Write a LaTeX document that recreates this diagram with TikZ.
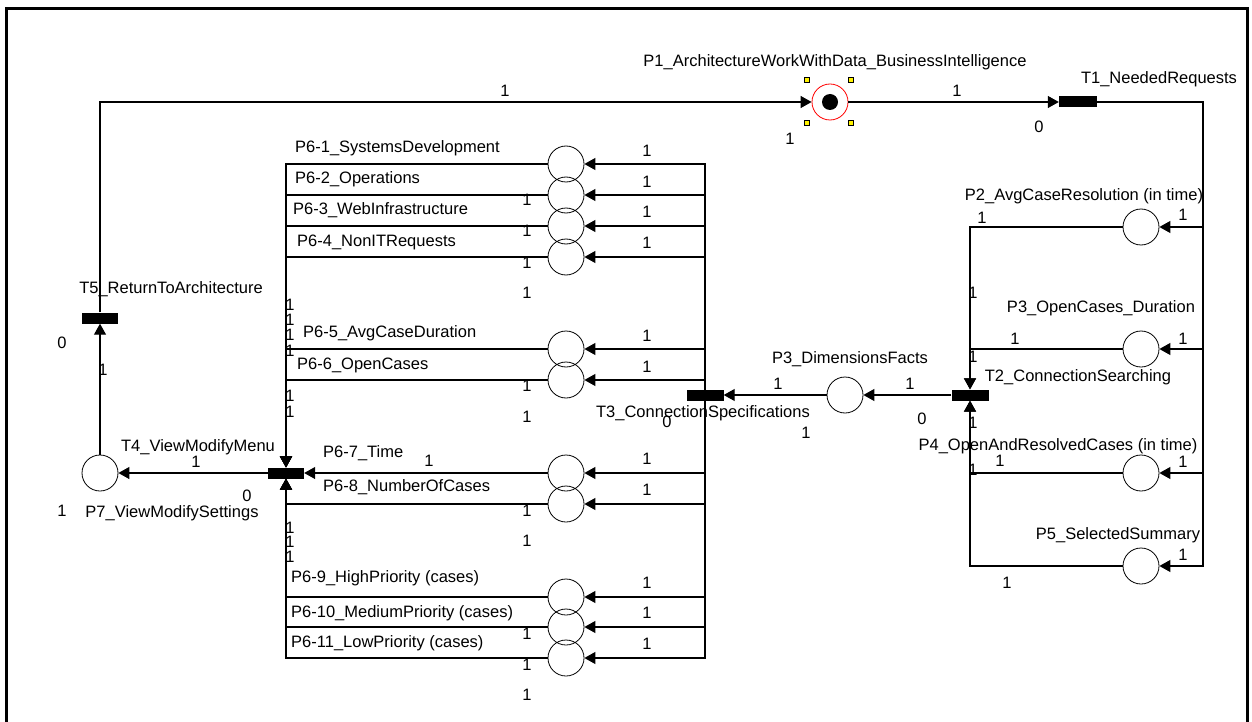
\documentclass[tikz,border=0pt]{standalone}
\usepackage{fontspec}
\setmainfont{Liberation Sans}
\usetikzlibrary{arrows.meta}
\begin{document}
\begin{tikzpicture}[x=1pt,y=-1pt,
  place/.style={circle,draw,line width=0.8pt,minimum size=36pt,inner sep=0pt},
  trans/.style={rectangle,fill=black,minimum width=37pt,minimum height=11pt,inner sep=0pt},
  arc/.style={line width=1.1pt,-{Triangle[length=11pt,width=12pt]}},
  lbl/.style={font=\fontsize{16.5}{19}\selectfont,inner sep=0pt},
  handle/.style={rectangle,draw=black,fill=yellow,line width=0.6pt,minimum size=5pt,inner sep=0pt}]
\useasboundingbox (0,0) rectangle (1252,722);
\fill[white] (0,0) rectangle (1252,722);
\draw[line width=3pt] (6,730) -- (6,9) -- (1247,9) -- (1247,730);

% places and transitions
\node[place,draw=red] (P1) at (830,102) {};
\fill (P1.center) circle (8);
\node[handle] (h1) at (807,80) {};
\node[handle] (h2) at (851,80) {};
\node[handle] (h3) at (807,123) {};
\node[handle] (h4) at (851,123) {};
\node[trans,minimum width=38pt] (T1) at (1078,102) {};
\node[place] (P2) at (1141,227) {};
\node[place] (P3oc) at (1141,349) {};
\node[place] (P4) at (1141,473) {};
\node[place] (P5) at (1141,566) {};
\node[trans] (T2) at (970,395) {};
\node[place] (P3df) at (845,395) {};
\node[trans] (T3) at (705,395) {};
\foreach \n/\y in {1/164,2/195,3/226,4/257,5/349,6/380,7/473,8/504,9/597,10/627,11/658}
  \node[place] (q\n) at (566,\y) {};
\node[trans,minimum width=36pt] (T4) at (286,473) {};
\node[place] (P7) at (100,473) {};
\node[trans,minimum width=36pt] (T5) at (100,318) {};
\coordinate (cr) at (1203,102);

% arcs
\draw[arc] (T5.north) |- (P1.west);
\draw[arc] (P1.east) -- (T1.west);
\foreach \p in {P2,P3oc,P4,P5} \draw[arc] (T1.east) -- (cr) |- (\p.east);
\draw[arc] (P2.west) -| (T2.north);
\draw[arc] (P3oc.west) -| (T2.north);
\draw[arc] (P4.west) -| (T2.south);
\draw[arc] (P5.west) -| (T2.south);
\draw[arc] (T2.west) -- (P3df.east);
\draw[arc] (P3df.west) -- (T3.east);
\foreach \n in {1,...,11} \draw[arc] (T3.center) |- (q\n.east);
\foreach \n in {1,...,6} \draw[arc] (q\n.west) -| (T4.north);
\draw[arc] (q7.west) -- (T4.east);
\foreach \n in {8,...,11} \draw[arc] (q\n.west) -| (T4.south);
\draw[arc] (T4.west) -- (P7.east);
\draw[arc] (P7.north) -- (T5.south);

% names
\node[lbl] (nP1) at (835,62) {P1\_ArchitectureWorkWithData\_BusinessIntelligence};
\node[lbl] (nT1) at (1159,79) {T1\_NeededRequests};
\node[lbl] (nP2) at (1084,196) {P2\_AvgCaseResolution (in time)};
\node[lbl] (nP3oc) at (1101,308) {P3\_OpenCases\_Duration};
\node[lbl] (nT2) at (1078,377) {T2\_ConnectionSearching};
\node[lbl] (nP4) at (1058,446) {P4\_OpenAndResolvedCases (in time)};
\node[lbl] (nP5) at (1118,535) {P5\_SelectedSummary};
\node[lbl] (nP3df) at (850,359) {P3\_DimensionsFacts};
\node[lbl] (nT3) at (703,413) {T3\_ConnectionSpecifications};
\node[lbl,anchor=west] (n1) at (295,148) {P6-1\_SystemsDevelopment};
\node[lbl,anchor=west] (n2) at (295,179) {P6-2\_Operations};
\node[lbl,anchor=west] (n3) at (293,210) {P6-3\_WebInfrastructure};
\node[lbl,anchor=west] (n4) at (297,242) {P6-4\_NonITRequests};
\node[lbl,anchor=west] (n5) at (303,333) {P6-5\_AvgCaseDuration};
\node[lbl,anchor=west] (n6) at (297,365) {P6-6\_OpenCases};
\node[lbl,anchor=west] (n7) at (323,453) {P6-7\_Time};
\node[lbl,anchor=west] (n8) at (323,487) {P6-8\_NumberOfCases};
\node[lbl,anchor=west] (n9) at (291,578) {P6-9\_HighPriority (cases)};
\node[lbl,anchor=west] (n10) at (291,613) {P6-10\_MediumPriority (cases)};
\node[lbl,anchor=west] (n11) at (291,643) {P6-11\_LowPriority (cases)};
\node[lbl] (nT4) at (198,447) {T4\_ViewModifyMenu};
\node[lbl] (nT5) at (171,289) {T5\_ReturnToArchitecture};
\node[lbl] (nP7) at (172,513) {P7\_ViewModifySettings};

% weights and markings
\foreach \x/\y/\t [count=\i] in {505/91/1,790/139/1,957/91/1,1039/127/0,
  982/218/1,1183/215/1,973/293/1,1015/339/1,1183/339/1,973/357/1,
  922/419/0,910/384/1,973/423/1,1000/461/1,1183/462/1,973/470/1,
  1007/583/1,1183/555/1,778/384/1,667/422/0,806/433/1,
  647/151/1,647/182/1,647/212/1,647/243/1,647/336/1,647/367/1,647/459/1,
  647/490/1,647/583/1,647/613/1,647/644/1,
  527/200/1,527/231/1,527/263/1,527/293/1,527/386/1,527/417/1,527/511/1,
  527/541/1,527/634/1,527/665/1,527/695/1,429/461/1,
  290/305/1,290/320/1,290/335/1,290/351/1,290/396/1,290/412/1,
  290/528/1,290/542/1,290/557/1,
  196/462/1,247/496/0,62/511/1,62/343/0,103/370/1}
  \node[lbl] (w\i) at (\x,\y) {\t};
\end{tikzpicture}
\end{document}
